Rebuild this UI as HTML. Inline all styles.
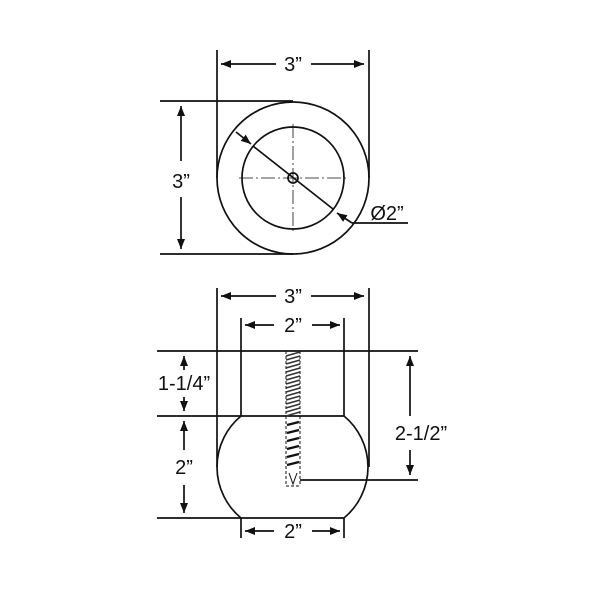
<!DOCTYPE html>
<html><head><style>html,body{margin:0;padding:0;background:#fff}svg{display:block}</style></head><body>
<svg width="600" height="600" viewBox="0 0 600 600" xmlns="http://www.w3.org/2000/svg" font-family="Liberation Sans, sans-serif" fill="none" stroke="#111">
<defs><marker id="a" viewBox="0 0 10 10" refX="10" refY="5" markerWidth="10" markerHeight="10" orient="auto-start-reverse" markerUnits="userSpaceOnUse"><path d="M0,1 L10,5 L0,9 z" fill="#111" stroke="none"/></marker></defs>
<g stroke-width="1.7">
<line x1="217" y1="50" x2="217" y2="178"/><line x1="369" y1="50" x2="369" y2="178"/>
<line x1="221" y1="64" x2="276" y2="64" marker-start="url(#a)"/><line x1="311" y1="64" x2="364" y2="64" marker-end="url(#a)"/>
<line x1="160" y1="101" x2="293" y2="101"/><line x1="160" y1="254" x2="293" y2="254"/>
<line x1="181" y1="106" x2="181" y2="161" marker-start="url(#a)"/><line x1="181" y1="197" x2="181" y2="249" marker-end="url(#a)"/>
<circle cx="293" cy="178" r="76"/>
<circle cx="293" cy="178" r="51"/>
<circle cx="293" cy="178" r="5"/>
<line x1="239" y1="178" x2="347" y2="178" stroke-width="0.8" stroke-dasharray="14,3,2,3"/>
<line x1="293" y1="124" x2="293" y2="232" stroke-width="0.8" stroke-dasharray="14,3,2,3"/>
<line x1="253" y1="146" x2="333" y2="209"/>
<line x1="236" y1="132" x2="251" y2="144" marker-end="url(#a)"/>
<line x1="352" y1="223" x2="337" y2="213" marker-end="url(#a)"/>
<line x1="352" y1="223" x2="408" y2="223"/>
<line x1="217" y1="288" x2="217" y2="467"/><line x1="369" y1="288" x2="369" y2="467"/>
<line x1="221" y1="296" x2="276" y2="296" marker-start="url(#a)"/><line x1="311" y1="296" x2="364" y2="296" marker-end="url(#a)"/>
<line x1="241" y1="318" x2="241" y2="416"/><line x1="344" y1="318" x2="344" y2="416"/>
<line x1="245" y1="325" x2="274" y2="325" marker-start="url(#a)"/><line x1="312" y1="325" x2="340" y2="325" marker-end="url(#a)"/>
<line x1="157" y1="351" x2="418" y2="351"/>
<line x1="157" y1="416" x2="344" y2="416"/>
<line x1="157" y1="518" x2="344" y2="518"/>
<path d="M241,416 A66.2,66.2 0 0 0 241,518"/>
<path d="M344,416 A66.2,66.2 0 0 1 344,518"/>
<line x1="241" y1="518" x2="241" y2="538"/><line x1="344" y1="518" x2="344" y2="538"/>
<line x1="245" y1="531" x2="274" y2="531" marker-start="url(#a)"/><line x1="312" y1="531" x2="340" y2="531" marker-end="url(#a)"/>
<line x1="184" y1="356" x2="184" y2="370" marker-start="url(#a)"/><line x1="184" y1="397" x2="184" y2="411" marker-end="url(#a)"/>
<line x1="184" y1="421" x2="184" y2="450" marker-start="url(#a)"/><line x1="184" y1="485" x2="184" y2="513" marker-end="url(#a)"/>
<line x1="410" y1="356" x2="410" y2="416" marker-start="url(#a)"/><line x1="410" y1="450" x2="410" y2="475" marker-end="url(#a)"/>
<line x1="300" y1="480" x2="418" y2="480"/>
</g>
<g stroke-width="1">
<line x1="286" y1="351" x2="286" y2="486" stroke-dasharray="3,2"/>
<line x1="300" y1="351" x2="300" y2="486" stroke-dasharray="3,2"/>
<line x1="286" y1="486" x2="300" y2="486" stroke-dasharray="3,2"/>
<path d="M289,473 L293,484 L297,473"/>
</g>
<g stroke-width="1.6" stroke="#333">
<path d="M286,356 l14,-4 M286,360 l14,-4 M286,364 l14,-4 M286,368 l14,-4 M286,372 l14,-4 M286,376 l14,-4 M286,380 l14,-4 M286,384 l14,-4 M286,388 l14,-4 M286,392 l14,-4 M286,396 l14,-4 M286,400 l14,-4 M286,404 l14,-4 M286,408 l14,-4 M286,412 l14,-4 M286,416 l14,-4"/>
</g>
<g stroke-width="2.2" stroke="#111">
<path d="M287,425 l12,-3 M287,433 l12,-3 M287,441 l12,-3 M287,449 l12,-3 M287,457 l12,-3 M287,465 l12,-3"/>
</g>
<g fill="#111" stroke="none" font-size="20" text-anchor="middle">
<text x="293" y="71">3”</text>
<text x="181" y="188">3”</text>
<text x="387" y="220">Ø2”</text>
<text x="293" y="303">3”</text>
<text x="293" y="332">2”</text>
<text x="184" y="390">1-1/4”</text>
<text x="184" y="474">2”</text>
<text x="421" y="440">2-1/2”</text>
<text x="293" y="538">2”</text>
</g>
</svg>
</body></html>
